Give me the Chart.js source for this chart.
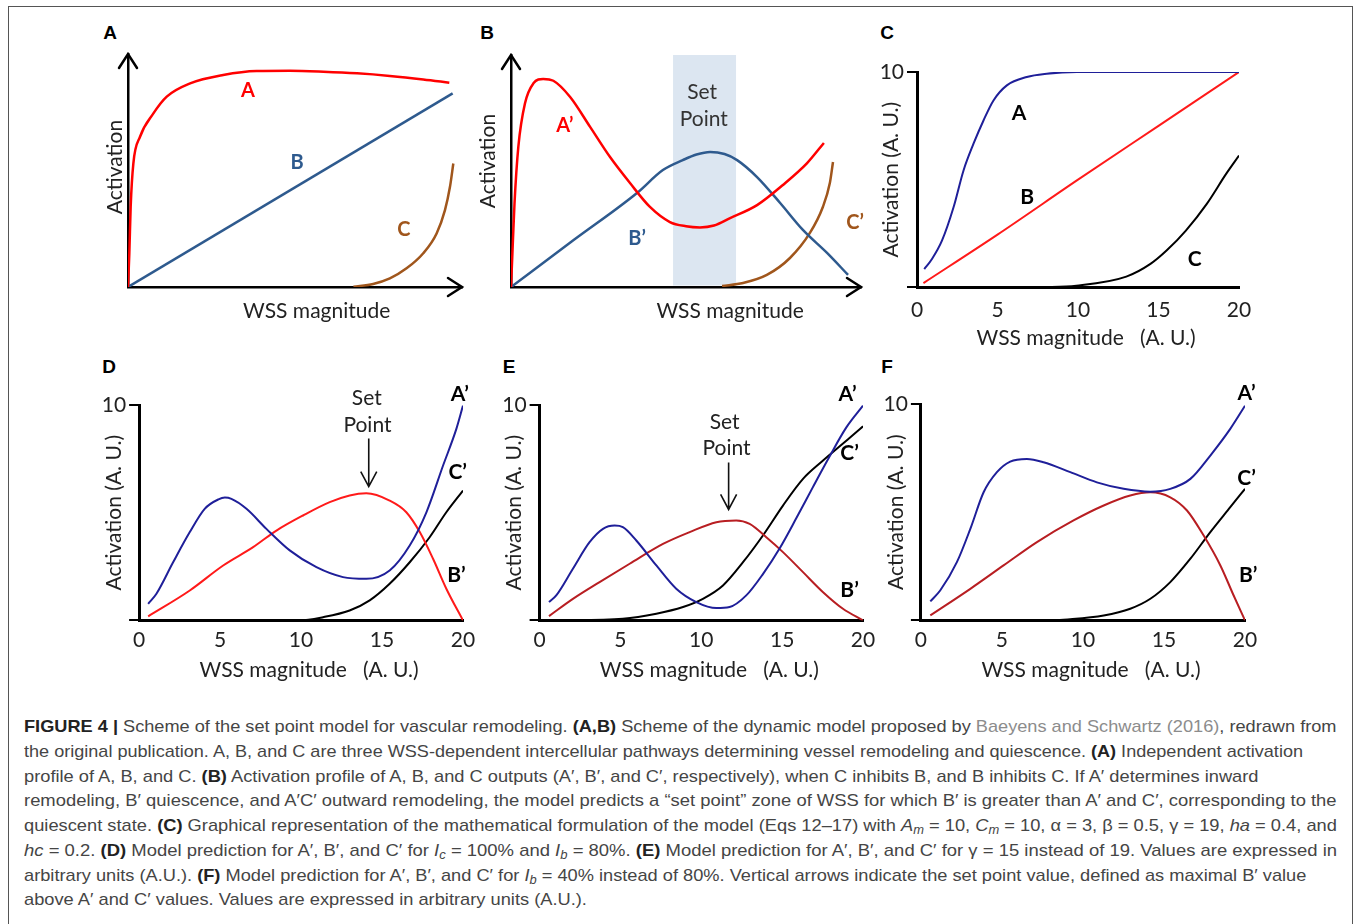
<!DOCTYPE html>
<html><head><meta charset="utf-8">
<script src="https://cdn.jsdelivr.net/npm/chart.js@4.4.1/dist/chart.umd.min.js"></script>
<style>
html,body{margin:0;padding:0;background:#fff;}
body{width:1360px;height:924px;position:relative;overflow:hidden;}
#frame{position:absolute;left:8px;top:6px;width:1345px;height:930px;border:1.5px solid #555;box-sizing:border-box;}
.plab{position:absolute;font:bold 19px "Liberation Sans",Arial,sans-serif;color:#000;transform:translate(-50%,-50%);}
canvas{position:absolute;}
.cap{position:absolute;left:24px;height:25px;line-height:25px;font:17px "Liberation Sans",Arial,sans-serif;color:#454545;white-space:nowrap;transform-origin:0 50%;display:inline-block;}
.cap b{color:#222;}
.cap .ref{color:#8c8c8c;}
.cap sub{font-size:12px;line-height:0;vertical-align:-3px;}
</style></head>
<body>
<div id="frame"></div>
<div class="plab" style="left:110px;top:33px">A</div>
<div class="plab" style="left:487px;top:33px">B</div>
<div class="plab" style="left:887px;top:33px">C</div>
<div class="plab" style="left:109px;top:367px">D</div>
<div class="plab" style="left:509px;top:367px">E</div>
<div class="plab" style="left:887px;top:367px">F</div>
<canvas id="cA"></canvas><canvas id="cB"></canvas><canvas id="cC"></canvas>
<canvas id="cD"></canvas><canvas id="cE"></canvas><canvas id="cF"></canvas>

<div class="cap" id="l1"><b>FIGURE 4 |</b> Scheme of the set point model for vascular remodeling. <b>(A,B)</b> Scheme of the dynamic model proposed by <span class="ref">Baeyens and Schwartz (2016)</span>, redrawn from</div>
<div class="cap" id="l2">the original publication. A, B, and C are three WSS-dependent intercellular pathways determining vessel remodeling and quiescence. <b>(A)</b> Independent activation</div>
<div class="cap" id="l3">profile of A, B, and C. <b>(B)</b> Activation profile of A, B, and C outputs (A′, B′, and C′, respectively), when C inhibits B, and B inhibits C. If A′ determines inward</div>
<div class="cap" id="l4">remodeling, B′ quiescence, and A′C′ outward remodeling, the model predicts a “set point” zone of WSS for which B′ is greater than A′ and C′, corresponding to the</div>
<div class="cap" id="l5">quiescent state. <b>(C)</b> Graphical representation of the mathematical formulation of the model (Eqs 12–17) with <i>A<sub>m</sub></i> = 10, <i>C<sub>m</sub></i> = 10, α = 3, β = 0.5, γ = 19, <i>ha</i> = 0.4, and</div>
<div class="cap" id="l6"><i>hc</i> = 0.2. <b>(D)</b> Model prediction for A′, B′, and C′ for <i>I<sub>c</sub></i> = 100% and <i>I<sub>b</sub></i> = 80%. <b>(E)</b> Model prediction for A′, B′, and C′ for γ = 15 instead of 19. Values are expressed in</div>
<div class="cap" id="l7">arbitrary units (A.U.). <b>(F)</b> Model prediction for A′, B′, and C′ for <i>I<sub>b</sub></i> = 40% instead of 80%. Vertical arrows indicate the set point value, defined as maximal B′ value</div>
<div class="cap" id="l8">above A′ and C′ values. Values are expressed in arbitrary units (A.U.).</div>

<script>
// ---------------- DATA ----------------
// Panel A (schematic, arbitrary 0-100 units)
const pA_A_x = [0, 0.4, 0.8, 1.6, 3.6, 7.6, 11.6, 18.6, 28.5, 38.5, 48.5, 58.5, 68.6, 78.4, 88.4, 96.2];
const pA_A_y = [0, 14.5, 34.5, 53, 64.5, 74.5, 81.7, 87.4, 91, 92.7, 92.8, 92.4, 91.7, 90.6, 89.1, 87.7];
const pA_B_x = [0, 97.2];
const pA_B_y = [0, 83.1];
const pA_C_x = [67.5, 73.4, 78.4, 83.4, 88.4, 92.4, 94.9, 96.4, 97.4];
const pA_C_y = [0.1, 1.3, 3.7, 8, 14.5, 23, 33, 43, 53];

// Panel B (schematic, arbitrary 0-100 units)
const pB_A_x = [0, 0.4, 1, 2.1, 4, 6.4, 9.2, 12.1, 16.9, 22.6, 28.3, 34, 39.7, 45.4, 50, 54, 58, 62.6, 70.3, 77.7, 84.6, 89.4];
const pB_A_y = [0, 14.5, 36, 60.5, 79.2, 87.8, 89.7, 88.9, 81.9, 69, 56, 44.8, 34.5, 28, 26.2, 25.7, 26.5, 29.7, 35.3, 44, 53.4, 62.1];
const pB_B_x = [0, 17.8, 36, 43.4, 49.1, 53, 56.9, 61, 64.6, 70.3, 76.9, 83.4, 90.3, 96.3];
const pB_B_y = [0, 20.1, 40.5, 50.4, 54.7, 57.1, 58.2, 57.3, 54.7, 47.4, 36.2, 24.6, 14.7, 5.2];
const pB_C_x = [60.3, 66.3, 73.1, 79.7, 85.4, 89.1, 91.1, 92];
const pB_C_y = [0.4, 1.7, 5.2, 12.5, 23.3, 34.5, 44.8, 53.9];
const pB_setPoint = [46.3, 64.3];

// Panel C
const pC_A_x = [0.45, 0.93, 1.55, 2.27, 2.89, 3.51, 4.13, 4.75, 5.58, 6.82, 8.06, 9.92, 12, 15, 20];
const pC_A_y = [0.85, 1.32, 2.17, 3.72, 5.43, 6.67, 7.75, 8.68, 9.38, 9.77, 9.92, 10, 10, 10, 10];
const pC_B_x = [0.4, 5, 10, 15, 20];
const pC_B_y = [0.2, 2.45, 5.0, 7.5, 10];
const pC_C_x = [7.6, 9.9, 13.0, 14.5, 15.5, 16.7, 18.0, 19.2, 20];
const pC_C_y = [0, 0.08, 0.5, 1.09, 1.71, 2.64, 3.88, 5.27, 6.12];

// Panel D
const pD_A_x = [0.56, 1.07, 2.10, 3.13, 4.05, 4.9, 5.3, 5.7, 6.63, 7.86, 9.30, 10.95, 12.59, 14.03, 15.47, 16.71, 17.74, 18.77, 19.59, 20];
const pD_A_y = [0.77, 1.24, 2.70, 4.10, 5.18, 5.62, 5.70, 5.64, 5.18, 4.25, 3.25, 2.47, 2.01, 1.93, 2.32, 3.48, 5.02, 7.19, 8.89, 9.97];
const pD_B_x = [0.56, 3.13, 5.19, 7.04, 8.48, 10.12, 11.77, 13.00, 14.03, 15.47, 16.50, 17.33, 18.15, 18.97, 20];
const pD_B_y = [0.19, 1.39, 2.55, 3.40, 4.17, 4.87, 5.49, 5.80, 5.90, 5.56, 5.02, 4.10, 2.86, 1.47, 0];
const pD_C_x = [7.24, 9.92, 11.36, 13.00, 14.24, 15.47, 16.71, 17.94, 18.97, 20];
const pD_C_y = [0, 0, 0.15, 0.46, 0.93, 1.70, 2.70, 3.86, 5.02, 6.03];
const pD_set = 14.18;

// Panel E
const pE_A_x = [0.58, 1.03, 2.06, 3.09, 3.92, 4.64, 5.15, 5.98, 7.22, 8.45, 9.69, 10.93, 11.75, 12.78, 13.81, 14.85, 15.88, 16.91, 17.94, 18.97, 20];
const pE_A_y = [0.85, 1.16, 2.40, 3.63, 4.25, 4.40, 4.33, 3.71, 2.55, 1.47, 0.85, 0.57, 0.62, 1.16, 2.15, 3.35, 4.75, 6.20, 7.62, 8.96, 9.97];
const pE_B_x = [0.58, 2.06, 3.71, 5.57, 7.63, 9.28, 10.93, 12.16, 12.99, 14.02, 15.05, 16.29, 17.53, 18.76, 20];
const pE_B_y = [0.20, 1.00, 1.78, 2.63, 3.55, 4.10, 4.56, 4.64, 4.48, 3.86, 3.17, 2.24, 1.31, 0.54, 0];
const pE_C_x = [1.03, 5.15, 7.22, 8.87, 10.10, 11.34, 12.58, 13.81, 15.05, 16.29, 17.53, 18.56, 19.38, 20];
const pE_C_y = [0, 0.08, 0.31, 0.62, 1.00, 1.62, 2.70, 3.94, 5.33, 6.57, 7.42, 8.08, 8.61, 9.01];
const pE_set = 11.69;

// Panel F
const pF_A_x = [0.58, 1.19, 2.22, 3.05, 3.87, 4.69, 5.51, 6.54, 7.57, 9.22, 10.86, 12.51, 14.16, 15.39, 16.63, 17.86, 19.09, 20];
const pF_A_y = [0.88, 1.38, 2.69, 4.23, 5.92, 6.85, 7.34, 7.46, 7.31, 6.85, 6.38, 6.08, 5.95, 6.08, 6.54, 7.62, 8.85, 9.92];
const pF_B_x = [0.58, 3.05, 5.10, 7.16, 9.42, 11.28, 12.92, 14.16, 15.39, 16.42, 17.45, 18.48, 19.30, 20];
const pF_B_y = [0.23, 1.46, 2.54, 3.62, 4.62, 5.31, 5.77, 5.92, 5.69, 5.08, 3.92, 2.54, 1.15, 0];
const pF_C_x = [8.40, 11.28, 12.92, 14.16, 15.39, 16.63, 17.86, 19.09, 20];
const pF_C_y = [0, 0.23, 0.54, 1.00, 1.77, 2.85, 4.08, 5.23, 6.08];

const xTicksNum = [0, 5, 10, 15, 20];
const yTickShown = 10;

// ---------------- STYLE / LAYOUT ----------------
const FONT = 'Lato';
const RED = '#ff0000', STEEL = '#2e5a8e', BROWN = '#a0561c';
const NAVY = '#1f1f99', BRED = '#ff1a1a', DRED = '#b81e22', BLK = '#000';

function series(xs, ys, color, w) {
  return { data: xs.map((x, i) => ({ x: x, y: ys[i] })), borderColor: color, borderWidth: w,
    pointRadius: 0, fill: false, cubicInterpolationMode: 'monotone' };
}

function decor(cfg) {
  return {
    id: 'decor',
    beforeDatasetsDraw(chart) {
      if (!cfg.band) return;
      const ctx = chart.ctx, a = chart.chartArea, x = chart.scales.x;
      const x1 = x.getPixelForValue(cfg.band[0]), x2 = x.getPixelForValue(cfg.band[1]);
      ctx.save(); ctx.fillStyle = cfg.bandColor;
      ctx.fillRect(x1, a.top, x2 - x1, a.bottom - a.top - 1.5);
      ctx.restore();
    },
    afterDraw(chart) {
      const ctx = chart.ctx, a = chart.chartArea, x = chart.scales.x, y = chart.scales.y;
      ctx.save();
      if (cfg.axisArrows) {
        ctx.strokeStyle = '#000'; ctx.lineWidth = 2.5; ctx.lineJoin = 'miter'; ctx.lineCap = 'round';
        ctx.beginPath();
        ctx.moveTo(a.left - 9, a.top + 14); ctx.lineTo(a.left, a.top); ctx.lineTo(a.left + 9, a.top + 14);
        ctx.moveTo(a.right - 14, a.bottom - 9); ctx.lineTo(a.right, a.bottom); ctx.lineTo(a.right - 14, a.bottom + 9);
        ctx.stroke();
      }
      (cfg.arrows || []).forEach(ar => {
        const px = x.getPixelForValue(ar.x), y1 = y.getPixelForValue(ar.y1), y2 = y.getPixelForValue(ar.y2);
        ctx.strokeStyle = '#111'; ctx.lineWidth = 1.6; ctx.lineCap = 'butt';
        ctx.beginPath(); ctx.moveTo(px, y1); ctx.lineTo(px, y2);
        ctx.moveTo(px - 8, y2 - 15); ctx.lineTo(px, y2); ctx.lineTo(px + 8, y2 - 15);
        ctx.stroke();
      });
      (cfg.texts || []).forEach(t => {
        ctx.font = (t.bold ? 'bold ' : '') + (t.size || 21) + 'px ' + FONT;
        ctx.fillStyle = t.color || '#222'; ctx.textAlign = 'center'; ctx.textBaseline = 'middle';
        const px = x.getPixelForValue(t.x), py = y.getPixelForValue(t.y);
        if (t.rot) { ctx.save(); ctx.translate(px, py); ctx.rotate(-Math.PI / 2); ctx.fillText(t.s, 0, 0); ctx.restore(); }
        else ctx.fillText(t.s, px, py);
      });
      ctx.restore();
    }
  };
}

function place(cv, rect, L) {
  const w = Math.round(L.W + (rect.r - rect.l) + L.R), h = Math.round(L.T + (rect.b - rect.t) + L.H);
  cv.width = w; cv.height = h;
  cv.style.width = w + 'px'; cv.style.height = h + 'px';
  cv.style.left = (rect.l - L.W) + 'px'; cv.style.top = (rect.t - L.T) + 'px';
}

function schematic(id, rect, L, datasets, cfg) {
  const cv = document.getElementById(id); place(cv, rect, L);
  new Chart(cv, {
    type: 'line', data: { datasets: datasets }, plugins: [decor(cfg)],
    options: {
      responsive: false, animation: false, events: [],
      layout: { padding: { left: 0, top: L.T, right: L.R, bottom: 0 } },
      plugins: { legend: { display: false }, tooltip: { enabled: false } },
      scales: {
        x: { type: 'linear', min: 0, max: 100, afterFit: s => { s.height = L.H; },
          border: { display: true, color: '#000', width: 2.5 }, grid: { display: false, drawTicks: false }, ticks: { display: false } },
        y: { type: 'linear', min: 0, max: 100, afterFit: s => { s.width = L.W; },
          border: { display: true, color: '#000', width: 2.5 }, grid: { display: false, drawTicks: false }, ticks: { display: false } }
      }
    }
  });
}

function numeric(id, rect, L, datasets, cfg) {
  const cv = document.getElementById(id); place(cv, rect, L);
  const tf = { family: FONT, size: 21 };
  new Chart(cv, {
    type: 'line', data: { datasets: datasets }, plugins: [decor(cfg)],
    options: {
      responsive: false, animation: false, events: [],
      layout: { padding: { left: 0, top: L.T, right: L.R, bottom: 0 } },
      plugins: { legend: { display: false }, tooltip: { enabled: false } },
      scales: {
        x: { type: 'linear', min: xTicksNum[0], max: xTicksNum[xTicksNum.length - 1], afterFit: s => { s.height = L.H; },
          afterBuildTicks: s => { s.ticks = xTicksNum.map(v => ({ value: v })); },
          border: { display: true, color: '#000', width: 3 }, grid: { display: false, drawTicks: false },
          ticks: { padding: L.xPad, color: '#222', font: tf, maxRotation: 0, autoSkip: false },
          title: { display: true, text: '   WSS magnitude   (A. U.)', color: '#222', font: tf, padding: 0 } },
        y: { type: 'linear', min: 0, max: 10, afterFit: s => { s.width = L.W; },
          border: { display: true, color: '#000', width: 3 },
          grid: { display: true, drawOnChartArea: false, drawTicks: true, tickLength: 10, color: '#000', lineWidth: 2 },
          ticks: { stepSize: 10, padding: 3, color: '#222', font: tf, callback: v => (v === yTickShown ? String(v) : '') },
          title: { display: true, text: 'Activation (A. U.)', color: '#222', font: tf, padding: 0 } }
      }
    }
  });
}

// Panel A
schematic('cA', { l: 128, t: 54, r: 462, b: 287 }, { W: 30, T: 10, R: 10, H: 40 },
  [series(pA_A_x, pA_A_y, RED, 2.5), series(pA_B_x, pA_B_y, STEEL, 2.5), series(pA_C_x, pA_C_y, BROWN, 2.5)],
  { axisArrows: true, texts: [
    { s: 'A', x: 35.9, y: 84.5, color: RED, bold: true, size: 20 },
    { s: 'B', x: 50.6, y: 53.6, color: STEEL, bold: true, size: 20 },
    { s: 'C', x: 82.6, y: 24.5, color: BROWN, bold: true, size: 20 },
    { s: 'WSS magnitude', x: 56.5, y: -10.6, color: '#222' },
    { s: 'Activation', x: -3.9, y: 51.5, color: '#222', rot: true } ] });

// Panel B
schematic('cB', { l: 511, t: 55, r: 861, b: 287 }, { W: 35, T: 10, R: 15, H: 40 },
  [series(pB_A_x, pB_A_y, RED, 2.5), series(pB_B_x, pB_B_y, STEEL, 2.5), series(pB_C_x, pB_C_y, BROWN, 2.5)],
  { axisArrows: true, band: pB_setPoint, bandColor: '#dce6f1', texts: [
    { s: 'A’', x: 15.4, y: 69.4, color: RED, bold: true, size: 20 },
    { s: 'B’', x: 36, y: 21.1, color: STEEL, bold: true, size: 20 },
    { s: 'C’', x: 98.3, y: 27.6, color: BROWN, bold: true, size: 20 },
    { s: 'Set', x: 54.6, y: 84, color: '#333' },
    { s: 'Point', x: 55.1, y: 72.4, color: '#333' },
    { s: 'WSS magnitude', x: 62.6, y: -10.3, color: '#222' },
    { s: 'Activation', x: -6.6, y: 54.3, color: '#222', rot: true } ] });

// Panel C
numeric('cC', { l: 917, t: 72, r: 1239, b: 287 }, { W: 38, T: 20, R: 25, H: 63.6, xPad: 10 },
  [series(pC_A_x, pC_A_y, NAVY, 2), series(pC_B_x, pC_B_y, BRED, 2), series(pC_C_x, pC_C_y, BLK, 2)],
  { texts: [
    { s: 'A', x: 6.34, y: 8.08, color: '#000', bold: true },
    { s: 'B', x: 6.84, y: 4.17, color: '#000', bold: true },
    { s: 'C', x: 17.25, y: 1.33, color: '#000', bold: true } ] });

// Panel D
numeric('cD', { l: 139.5, t: 404.5, r: 463, b: 620 }, { W: 37.1, T: 30, R: 25, H: 62.6, xPad: 7 },
  [series(pD_A_x, pD_A_y, NAVY, 2), series(pD_B_x, pD_B_y, BRED, 2), series(pD_C_x, pD_C_y, BLK, 2)],
  { arrows: [{ x: pD_set, y1: 8.44, y2: 6.21 }], texts: [
    { s: 'Set', x: 14.06, y: 10.3 }, { s: 'Point', x: 14.1, y: 9.04 },
    { s: 'A’', x: 19.8, y: 10.48, color: '#000', bold: true },
    { s: 'C’', x: 19.67, y: 6.86, color: '#000', bold: true },
    { s: 'B’', x: 19.6, y: 2.09, color: '#000', bold: true } ] });

// Panel E
numeric('cE', { l: 540, t: 404.5, r: 863.5, b: 620 }, { W: 37.6, T: 30, R: 25, H: 62.6, xPad: 7 },
  [series(pE_A_x, pE_A_y, NAVY, 2), series(pE_B_x, pE_B_y, DRED, 2), series(pE_C_x, pE_C_y, BLK, 2)],
  { arrows: [{ x: pE_set, y1: 7.33, y2: 5.15 }], texts: [
    { s: 'Set', x: 11.44, y: 9.18 }, { s: 'Point', x: 11.56, y: 7.97 },
    { s: 'A’', x: 19.05, y: 10.48, color: '#000', bold: true },
    { s: 'C’', x: 19.17, y: 7.74, color: '#000', bold: true },
    { s: 'B’', x: 19.17, y: 1.39, color: '#000', bold: true } ] });

// Panel F
numeric('cF', { l: 921, t: 403.5, r: 1245, b: 620 }, { W: 36.9, T: 30, R: 25, H: 62.6, xPad: 7 },
  [series(pF_A_x, pF_A_y, NAVY, 2), series(pF_B_x, pF_B_y, DRED, 2), series(pF_C_x, pF_C_y, BLK, 2)],
  { texts: [
    { s: 'A’', x: 20.1, y: 10.5, color: '#000', bold: true },
    { s: 'C’', x: 20.1, y: 6.58, color: '#000', bold: true },
    { s: 'B’', x: 20.2, y: 2.09, color: '#000', bold: true } ] });

// ---------------- CAPTION LAYOUT ----------------
function fitCaption() {
  const ids = ['l1', 'l2', 'l3', 'l4', 'l5', 'l6', 'l7', 'l8'];
  const rightEdges = [1336, 1303, 1258, 1337, 1337, 1337, 1306, null];
  const baseline0 = 735.7, pitch = 24.7;
  const scales = [];
  ids.forEach((id, i) => {
    const el = document.getElementById(id);
    el.style.transform = 'none';
    el.style.top = (baseline0 + i * pitch - 18.4) + 'px';
    if (rightEdges[i]) scales.push((rightEdges[i] - 24) / el.offsetWidth);
  });
  const avg = scales.reduce((a, b) => a + b, 0) / scales.length;
  ids.forEach((id, i) => {
    const el = document.getElementById(id);
    const s = rightEdges[i] ? (rightEdges[i] - 24) / el.offsetWidth : avg;
    el.style.transform = 'scaleX(' + s + ')';
  });
}
fitCaption();
if (document.fonts && document.fonts.ready) document.fonts.ready.then(fitCaption);
</script>
</body></html>
